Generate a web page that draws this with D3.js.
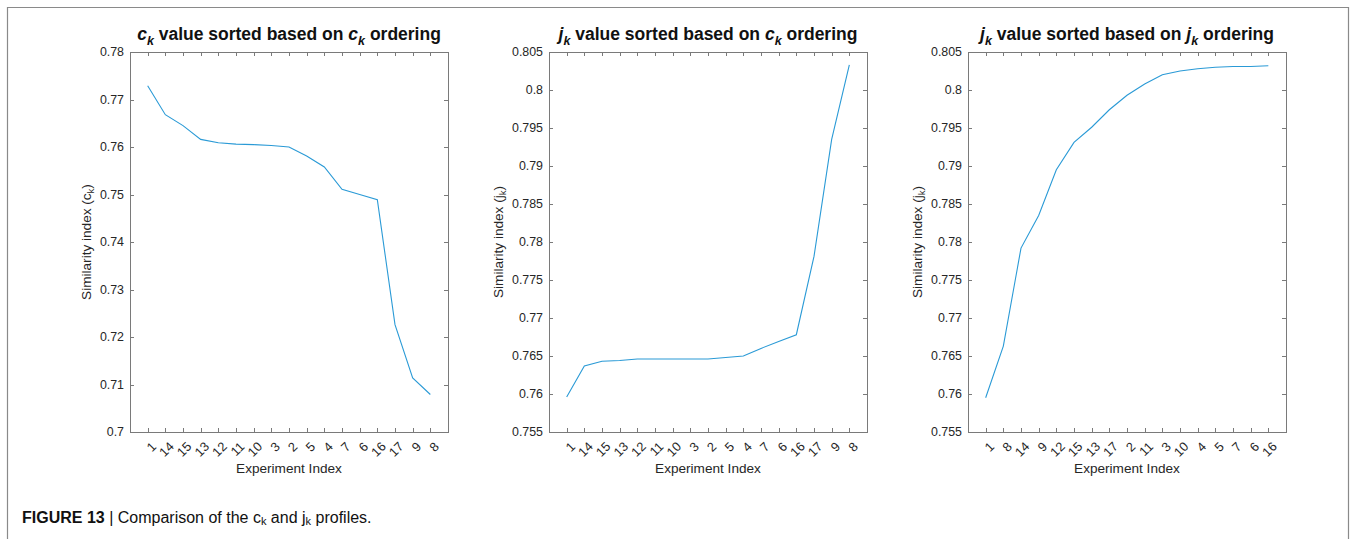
<!DOCTYPE html>
<html>
<head>
<meta charset="utf-8">
<script src="https://cdn.jsdelivr.net/npm/d3@7"></script>
<style>
  html, body { margin: 0; padding: 0; background: #fff; }
  svg { display: block; font-family: "Liberation Sans", Arial, Helvetica, sans-serif; }
</style>
</head>
<body>
<svg id="fig" width="1356" height="539"></svg>
<script>
// Experiment orderings
const orderByC = ["1","14","15","13","12","11","10","3","2","5","4","7","6","16","17","9","8"];
const orderByJ = ["1","8","14","9","12","15","13","17","2","11","3","10","4","5","7","6","16"];

// Similarity index values along each ordering
const ckByC = [0.7729, 0.7668, 0.7645, 0.7616, 0.7609, 0.7606, 0.7605, 0.7603, 0.7600,
               0.7581, 0.7558, 0.7511, 0.7500, 0.7489, 0.7226, 0.7114, 0.7079];
const jkByC = [0.7596, 0.7637, 0.7643, 0.7644, 0.7646, 0.7646, 0.7646, 0.7646, 0.7646,
               0.7648, 0.7650, 0.7660, 0.7669, 0.7678, 0.7781, 0.7935, 0.8033];
const jkByJ = [0.7595, 0.7663, 0.7792, 0.7835, 0.7895, 0.7931, 0.7951, 0.7974, 0.7993,
               0.8008, 0.8020, 0.8025, 0.8028, 0.8030, 0.8031, 0.8031, 0.8032];

// Y tick values
const ticksC = [0.70, 0.71, 0.72, 0.73, 0.74, 0.75, 0.76, 0.77, 0.78];
const ticksJ = [0.755, 0.76, 0.765, 0.77, 0.775, 0.78, 0.785, 0.79, 0.795, 0.80, 0.805];

const panels = [
  { sym: "c", ord: "c", cats: orderByC, vals: ckByC, ticks: ticksC, ylab: "c", left: 130, labOff: 39 },
  { sym: "j", ord: "c", cats: orderByC, vals: jkByC, ticks: ticksJ, ylab: "j", left: 549, labOff: 46 },
  { sym: "j", ord: "j", cats: orderByJ, vals: jkByJ, ticks: ticksJ, ylab: "j", left: 968, labOff: 46 }
];

const svg = d3.select("#fig");
const plotTop = 52, plotBottom = 432, pw = 318;
const axisCol = "#7a7a7a", textCol = "#262626", lineCol = "#2a9ad6";
const tickLen = 4;

// Outer frame (top, left, right edges)
svg.append("path")
  .attr("d", "M7.5,539 L7.5,7.5 L1348.5,7.5 L1348.5,539")
  .attr("fill", "none").attr("stroke", "#8a8a8a").attr("stroke-width", 1.2);

panels.forEach(p => {
  const g = svg.append("g");
  const x = d3.scalePoint().domain(p.cats).range([p.left, p.left + pw]).padding(1);
  const y = d3.scaleLinear().domain([p.ticks[0], p.ticks[p.ticks.length - 1]]).range([plotBottom, plotTop]);

  // Plot box
  g.append("rect")
    .attr("x", p.left + 0.5).attr("y", plotTop + 0.5)
    .attr("width", pw).attr("height", plotBottom - plotTop)
    .attr("fill", "none").attr("stroke", axisCol).attr("stroke-width", 1);

  // Inward ticks on all four sides
  const yTicks = p.ticks.slice(1, -1);
  p.cats.forEach(c => {
    const xx = Math.round(x(c)) + 0.5;
    g.append("line").attr("x1", xx).attr("x2", xx).attr("y1", plotBottom).attr("y2", plotBottom - tickLen)
      .attr("stroke", axisCol);
    g.append("line").attr("x1", xx).attr("x2", xx).attr("y1", plotTop).attr("y2", plotTop + tickLen)
      .attr("stroke", axisCol);
  });
  yTicks.forEach(t => {
    const yy = Math.round(y(t)) + 0.5;
    g.append("line").attr("x1", p.left).attr("x2", p.left + tickLen).attr("y1", yy).attr("y2", yy)
      .attr("stroke", axisCol);
    g.append("line").attr("x1", p.left + pw).attr("x2", p.left + pw - tickLen).attr("y1", yy).attr("y2", yy)
      .attr("stroke", axisCol);
  });

  // Y tick labels
  const fmt = v => String(+v.toFixed(3));
  p.ticks.forEach(t => {
    g.append("text")
      .attr("x", p.left - 6).attr("y", y(t)).attr("dy", "0.35em")
      .attr("text-anchor", "end").attr("font-size", 12.4).attr("fill", textCol)
      .text(fmt(t));
  });

  // Rotated X tick labels
  p.cats.forEach(c => {
    g.append("text")
      .attr("transform", `translate(${x(c) + 3},${plotBottom + 9}) rotate(-45)`)
      .attr("text-anchor", "end").attr("dy", "0.7em")
      .attr("font-size", 12.8).attr("fill", textCol)
      .text(c);
  });

  // X axis label
  g.append("text")
    .attr("x", p.left + pw / 2).attr("y", 473)
    .attr("text-anchor", "middle").attr("font-size", 13.6).attr("fill", textCol)
    .text("Experiment Index");

  // Y axis label with subscript
  const yl = g.append("text")
    .attr("transform", `translate(${p.left - p.labOff},${(plotTop + plotBottom) / 2}) rotate(-90)`)
    .attr("text-anchor", "middle").attr("font-size", 13.6).attr("fill", textCol);
  yl.append("tspan").text("Similarity index (" + p.ylab);
  yl.append("tspan").attr("font-size", 9.5).attr("dy", 3).text("k");
  yl.append("tspan").attr("dy", -3).text(")");

  // Title
  const tt = g.append("text")
    .attr("x", p.left + pw / 2).attr("y", 40)
    .attr("text-anchor", "middle").attr("font-size", 17.5).attr("font-weight", "bold").attr("fill", "#111");
  tt.append("tspan").attr("font-style", "italic").text(p.sym);
  tt.append("tspan").attr("font-style", "italic").attr("font-size", 12.5).attr("dy", 5).text("k");
  tt.append("tspan").attr("dy", -5).text(" value sorted based on ");
  tt.append("tspan").attr("font-style", "italic").text(p.ord);
  tt.append("tspan").attr("font-style", "italic").attr("font-size", 12.5).attr("dy", 5).text("k");
  tt.append("tspan").attr("dy", -5).text(" ordering");

  // Data line
  const line = d3.line().x((d, i) => x(p.cats[i])).y(d => y(d));
  g.append("path").datum(p.vals)
    .attr("d", line).attr("fill", "none")
    .attr("stroke", lineCol).attr("stroke-width", 1.1);
});

// Caption
const cap = svg.append("text").attr("x", 22).attr("y", 523).attr("font-size", 16).attr("fill", "#111");
cap.append("tspan").attr("font-weight", "bold").text("FIGURE 13 ");
cap.append("tspan").text("| Comparison of the c");
cap.append("tspan").attr("font-size", 11).attr("dy", 2).text("k");
cap.append("tspan").attr("dy", -2).text(" and j");
cap.append("tspan").attr("font-size", 11).attr("dy", 2).text("k");
cap.append("tspan").attr("dy", -2).text(" profiles.");
</script>
</body>
</html>
